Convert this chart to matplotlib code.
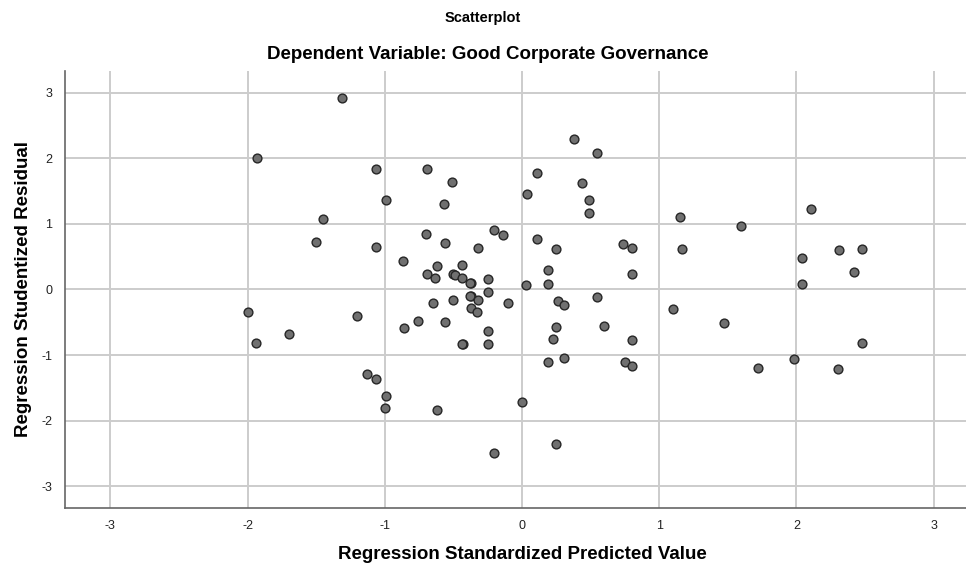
import matplotlib
matplotlib.use("Agg")
import matplotlib.pyplot as plt

# standardized predicted value (x) and studentized residual (y)
pred = [-1.93, -1.45, -1.50, -2.00, -1.94, -1.70, -1.31, -1.06, -0.99, -0.69,
        -0.51, -0.57, -1.06, -0.70, -0.56, -0.87, -0.20, -0.14, -0.32, -0.62,
        -0.44, -0.69, -0.63, -0.50, -0.49, -0.44, -0.37, -0.375, -0.25, -0.25,
        -0.37, -0.375, -0.32, -0.50, -0.65, -0.10, -0.37, -0.33, -1.20, -0.86,
        -0.76, -0.56, -0.25, -0.25, -0.43, -0.435, 0.11, 0.04, 0.38, 0.55,
        0.44, 0.49, 0.49, 0.11, 0.25, 0.74, 0.80, 0.80, 0.19, 0.19,
        0.03, 0.55, 0.26, 0.31, 1.15, 1.17, 1.60, 2.11, 2.04, 2.31,
        2.48, 2.42, 2.04, 1.10, 1.47, 1.72, 1.98, 2.30, 2.48, 0.25,
        0.60, 0.23, 0.80, 0.19, 0.31, 0.75, 0.80, -1.13, -1.06, -0.99,
        -1.00, -0.62, 0.00, 0.25, -0.20]
resid = [2.01, 1.08, 0.72, -0.34, -0.81, -0.68, 2.92, 1.84, 1.37, 1.83,
         1.64, 1.30, 0.64, 0.84, 0.70, 0.44, 0.91, 0.83, 0.63, 0.36,
         0.37, 0.24, 0.17, 0.23, 0.22, 0.17, 0.10, 0.095, 0.16, -0.04,
         -0.10, -0.105, -0.16, -0.16, -0.21, -0.21, -0.29, -0.34, -0.41, -0.59,
         -0.48, -0.50, -0.64, -0.83, -0.83, -0.835, 1.77, 1.46, 2.29, 2.08,
         1.62, 1.36, 1.16, 0.77, 0.62, 0.69, 0.63, 0.23, 0.29, 0.09,
         0.06, -0.11, -0.18, -0.24, 1.11, 0.62, 0.97, 1.22, 0.48, 0.60,
         0.61, 0.27, 0.08, -0.30, -0.51, -1.19, -1.06, -1.22, -0.81, -0.57,
         -0.56, -0.76, -0.77, -1.10, -1.04, -1.11, -1.17, -1.29, -1.36, -1.63,
         -1.81, -1.84, -1.71, -2.36, -2.49]

ticks = [-3, -2, -1, 0, 1, 2, 3]

plt.rcParams['font.family'] = ['Liberation Sans', 'DejaVu Sans']
plt.rcParams['axes.unicode_minus'] = False

fig = plt.figure(figsize=(9.66, 5.65), dpi=100)
# plot area runs past the right edge of the picture, as in the original export
ax = fig.add_axes([0.0673, 0.101, 0.946, 0.7735])

ax.scatter(pred, resid, s=40, facecolor='#707070', edgecolor='#262626',
           linewidth=1.0, zorder=3)

ax.set_xlim(-3.33, 3.33)
ax.set_ylim(-3.33, 3.33)
ax.set_xticks(ticks)
ax.set_yticks(ticks)
ax.grid(True, color='#cccccc', linewidth=1.4)
ax.set_axisbelow(True)
for side in ['top', 'right']:
    ax.spines[side].set_visible(False)
for side in ['left', 'bottom']:
    ax.spines[side].set_color('#666666')
    ax.spines[side].set_linewidth(1.2)
ax.tick_params(length=0, labelsize=9, colors='#222222', pad=9)

ax.set_xlabel('Regression Standardized Predicted Value', fontsize=13.5,
              fontweight='bold', labelpad=10)
ax.set_ylabel('Regression Studentized Residual', fontsize=13.5,
              fontweight='bold', labelpad=7)

fig.text(0.5, 0.968, 'Scatterplot', ha='center', va='center',
         fontsize=10.5, fontweight='bold')
fig.text(0.505, 0.904, 'Dependent Variable: Good Corporate Governance',
         ha='center', va='center', fontsize=13.5, fontweight='bold')

fig.savefig('out.png', dpi=100)
